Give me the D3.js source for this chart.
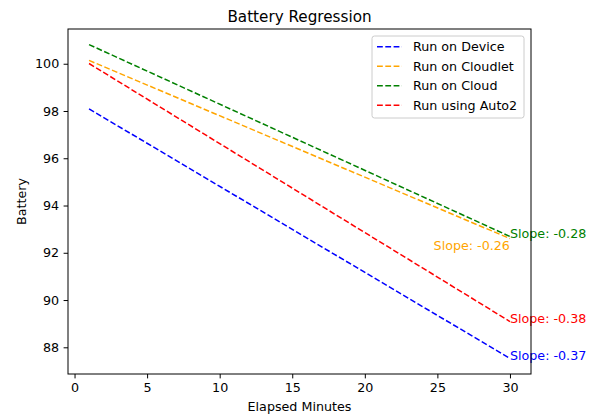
<html>
<head>
<script src="https://d3js.org/d3.v7.min.js"></script>
<style>
  body { margin: 0; background: white; }
  text { font-family: 'DejaVu Sans', sans-serif; fill: #000; }
</style>
</head>
<body>
<svg id="chart" width="595" height="416"></svg>
<script>
// data
const names = ['Run on Device', 'Run on Cloudlet', 'Run on Cloud', 'Run using Auto2'];
const colors = ['blue', 'orange', 'green', 'red'];
const xStart = [1, 1, 1, 1];
const xEnd = [30, 30, 30, 30];
const yStart = [98.09, 100.14, 100.81, 100.01];
const yEnd = [87.53, 92.60, 92.69, 89.09];
const slopeLabels = ['Slope: -0.37', 'Slope: -0.26', 'Slope: -0.28', 'Slope: -0.38'];
const xTicks = [0, 5, 10, 15, 20, 25, 30];
const yTicks = [88, 90, 92, 94, 96, 98, 100];

const svg = d3.select('#chart');
const margin = { left: 68, top: 29, right: 64, bottom: 42 };
const w = 595 - margin.left - margin.right;
const h = 416 - margin.top - margin.bottom;
const fs = 12.7;
const dash = '5.8,2.5';

const x = d3.scaleLinear().domain([-0.45, 31.45]).range([0, w]);
const y = d3.scaleLinear().domain([86.87, 101.47]).range([h, 0]);

const plot = svg.append('g').attr('transform', `translate(${margin.left},${margin.top})`);

// lines
names.forEach((n, i) => {
  plot.append('line')
    .attr('x1', x(xStart[i])).attr('y1', y(yStart[i]))
    .attr('x2', x(xEnd[i])).attr('y2', y(yEnd[i]))
    .attr('stroke', colors[i])
    .attr('stroke-width', 1.5)
    .attr('stroke-dasharray', dash);
});

// slope annotations (orange one sits under the end point, right aligned)
slopeLabels.forEach((s, i) => {
  const t = plot.append('text')
    .attr('x', x(xEnd[i]))
    .attr('y', y(yEnd[i]))
    .attr('font-size', fs)
    .style('fill', colors[i])
    .text(s);
  if (i === 1) {
    t.attr('text-anchor', 'end').attr('dy', '0.87em');
  } else {
    t.attr('dy', '0.09em');
  }
});

// axes
const xAxis = plot.append('g').attr('transform', `translate(0,${h})`)
  .call(d3.axisBottom(x).tickValues(xTicks).tickSize(4.4).tickPadding(4.4));
const yAxis = plot.append('g')
  .call(d3.axisLeft(y).tickValues(yTicks).tickSize(4.4).tickPadding(4.4));
[xAxis, yAxis].forEach(a => {
  a.select('.domain').remove();
  a.selectAll('text').attr('font-size', fs).attr('font-family', 'DejaVu Sans').style('fill', '#000');
  a.selectAll('line').attr('stroke', '#000').attr('stroke-width', 1);
});

plot.append('rect')
  .attr('width', w).attr('height', h)
  .attr('fill', 'none').attr('stroke', '#000').attr('stroke-width', 1);

// titles
svg.append('text').attr('x', margin.left + w / 2).attr('y', 21.5)
  .attr('text-anchor', 'middle').attr('font-size', 15.2).text('Battery Regression');
svg.append('text').attr('x', margin.left + w / 2).attr('y', 411)
  .attr('text-anchor', 'middle').attr('font-size', fs).text('Elapsed Minutes');
svg.append('text')
  .attr('transform', `translate(26,${margin.top + h / 2}) rotate(-90)`)
  .attr('text-anchor', 'middle').attr('font-size', fs).text('Battery');

// legend
const lg = svg.append('g').attr('transform', 'translate(372,36)');
lg.append('rect').attr('width', 152).attr('height', 82).attr('rx', 2.5)
  .attr('fill', 'white').attr('fill-opacity', 0.8)
  .attr('stroke', '#ccc').attr('stroke-width', 1);
names.forEach((n, i) => {
  const yy = 10.7 + i * 19.5;
  lg.append('line').attr('x1', 5).attr('x2', 30).attr('y1', yy).attr('y2', yy)
    .attr('stroke', colors[i]).attr('stroke-width', 1.5).attr('stroke-dasharray', dash);
  lg.append('text').attr('x', 41).attr('y', yy).attr('dy', '0.36em')
    .attr('font-size', fs).text(n);
});
</script>
</body>
</html>
